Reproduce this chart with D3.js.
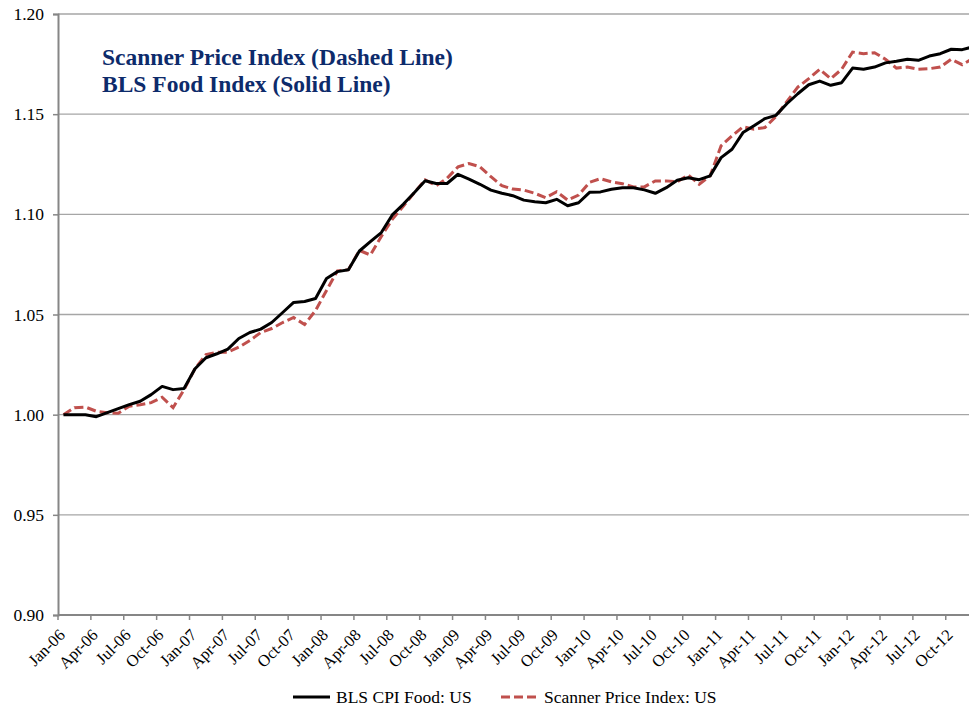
<!DOCTYPE html>
<html>
<head>
<meta charset="utf-8">
<script src="https://cdn.jsdelivr.net/npm/d3@7"></script>
<style>
  html, body { margin: 0; padding: 0; background: #fff; }
  svg { display: block; font-family: "Liberation Serif", "Times New Roman", serif; }
</style>
</head>
<body>
<svg id="chart" width="969" height="711"></svg>
<script>
// Monthly index values, Jan-2006 = 1.00
const monthNames = ["Jan", "Feb", "Mar", "Apr", "May", "Jun", "Jul", "Aug", "Sep", "Oct", "Nov", "Dec"];
const years = ["06", "07", "08", "09", "10", "11", "12"];
const months = years.flatMap(y => monthNames.map(m => `${m}-${y}`));

const blsFood = [
  1.000, 1.000, 1.000, 0.999, 1.001, 1.003, 1.005, 1.0067, 1.010, 1.0141, 1.0125, 1.0131,
  1.0229, 1.0284, 1.0304, 1.0327, 1.038, 1.041, 1.0427, 1.046, 1.051, 1.056, 1.0565, 1.058,
  1.068, 1.0714, 1.0723, 1.0817, 1.0864, 1.0909, 1.0997, 1.105, 1.1108, 1.1168, 1.1154, 1.1154,
  1.120, 1.1176, 1.115, 1.1121, 1.1105, 1.1093, 1.1071, 1.1063, 1.1058, 1.1075, 1.1043, 1.1058,
  1.111, 1.1112, 1.1125, 1.1133, 1.1133, 1.1122, 1.1105, 1.1133, 1.117, 1.1183, 1.1173, 1.1192,
  1.1283, 1.1325, 1.1408, 1.1442, 1.1478, 1.1494, 1.1552, 1.1602, 1.1647, 1.1665, 1.1644, 1.1657,
  1.173, 1.1724, 1.1735, 1.1756, 1.1764, 1.1774, 1.1769, 1.179, 1.1802, 1.1824, 1.1822, 1.1836
];

const scannerIndex = [
  1.000, 1.0035, 1.0038, 1.0017, 1.001, 1.0007, 1.0042, 1.005, 1.006, 1.0087, 1.0035, 1.0125,
  1.023, 1.030, 1.0312, 1.0312, 1.0337, 1.037, 1.041, 1.043, 1.046, 1.0485, 1.045, 1.052,
  1.062, 1.0718, 1.0724, 1.082, 1.0797, 1.089, 1.0975, 1.104, 1.1108, 1.1172, 1.1143, 1.118,
  1.1237, 1.1254, 1.1237, 1.1188, 1.1143, 1.1126, 1.1121, 1.1105, 1.1083, 1.1113, 1.1071, 1.1096,
  1.116, 1.1178, 1.1162, 1.1153, 1.1137, 1.1137, 1.1167, 1.1167, 1.1162, 1.1197, 1.115, 1.1192,
  1.1342, 1.1392, 1.1437, 1.1425, 1.1433, 1.1488, 1.1563, 1.1635, 1.1677, 1.1724, 1.1677, 1.1724,
  1.181, 1.1802, 1.1807, 1.1774, 1.173, 1.1735, 1.1724, 1.1727, 1.1735, 1.1774, 1.1747, 1.1778
];

const yTicks = [0.90, 0.95, 1.00, 1.05, 1.10, 1.15, 1.20];
const xTickLabels = months.filter((m, i) => i % 3 === 0);

const titleLines = ["Scanner Price Index (Dashed Line)", "BLS Food Index (Solid Line)"];
const seriesNames = ["BLS CPI Food: US", "Scanner Price Index: US"];

// Layout
const svg = d3.select("#chart");
const plot = { left: 58, top: 14, bottom: 615, catWidth: 10.96 };
plot.right = plot.left + plot.catWidth * months.length;

const x = d3.scaleBand().domain(months).range([plot.left, plot.right]).padding(0);
const xc = m => x(m) + x.bandwidth() / 2;
const y = d3.scaleLinear().domain([0.90, 1.20]).range([plot.bottom, plot.top]);

// Horizontal gridlines
svg.append("g")
  .selectAll("line")
  .data(yTicks.filter(t => t > 0.90))
  .join("line")
  .attr("x1", plot.left).attr("x2", plot.right)
  .attr("y1", d => y(d)).attr("y2", d => y(d))
  .attr("stroke", "#a6a6a6").attr("stroke-width", 1.3);

// Y axis
const yAxis = svg.append("g")
  .attr("transform", `translate(${plot.left},0)`)
  .call(d3.axisLeft(y).tickValues(yTicks).tickFormat(d3.format(".2f")).tickSize(5).tickPadding(9));
yAxis.select(".domain").attr("stroke", "#868686").attr("stroke-width", 2);
yAxis.selectAll(".tick line").attr("stroke", "#868686").attr("stroke-width", 1.5);
yAxis.selectAll(".tick text").attr("font-size", 17.5).attr("fill", "#000")
  .attr("font-family", "Liberation Serif, Times New Roman, serif");

// X axis
const xAxis = svg.append("g");
xAxis.append("line")
  .attr("x1", plot.left).attr("x2", plot.right)
  .attr("y1", plot.bottom).attr("y2", plot.bottom)
  .attr("stroke", "#868686").attr("stroke-width", 2);
const xTicks = xAxis.selectAll("g.xtick")
  .data(xTickLabels)
  .join("g")
  .attr("class", "xtick")
  .attr("transform", d => `translate(${x(d)},${plot.bottom})`);
xTicks.append("line")
  .attr("y1", 0).attr("y2", 5)
  .attr("stroke", "#868686").attr("stroke-width", 1.5);
xTicks.append("text")
  .attr("transform", "translate(8,21) rotate(-45)")
  .attr("text-anchor", "end")
  .attr("font-size", 16.5)
  .attr("fill", "#000")
  .text(d => d);

// Series lines
const line = d3.line().x((d, i) => xc(months[i])).y(d => y(d));

svg.append("path")
  .datum(scannerIndex)
  .attr("d", line)
  .attr("fill", "none")
  .attr("stroke", "#c0504d")
  .attr("stroke-width", 3)
  .attr("stroke-dasharray", "9,4");

svg.append("path")
  .datum(blsFood)
  .attr("d", line)
  .attr("fill", "none")
  .attr("stroke", "#000")
  .attr("stroke-width", 3)
  .attr("stroke-linejoin", "round");

// In-plot title
svg.append("g")
  .selectAll("text")
  .data(titleLines)
  .join("text")
  .attr("x", 102)
  .attr("y", (d, i) => 65 + i * 27)
  .attr("font-size", 23.5)
  .attr("font-weight", "bold")
  .attr("fill", "#0d2b6b")
  .text(d => d);

// Legend
const legend = svg.append("g");
const legendItems = [
  { name: seriesNames[0], x: 293, color: "#000", dash: null },
  { name: seriesNames[1], x: 501, color: "#c0504d", dash: "9,4" }
];
legendItems.forEach(item => {
  legend.append("line")
    .attr("x1", item.x).attr("x2", item.x + 37)
    .attr("y1", 697).attr("y2", 697)
    .attr("stroke", item.color).attr("stroke-width", 3)
    .attr("stroke-dasharray", item.dash);
  legend.append("text")
    .attr("x", item.x + 43).attr("y", 703)
    .attr("font-size", 17.5)
    .attr("fill", "#000")
    .text(item.name);
});
</script>
</body>
</html>
